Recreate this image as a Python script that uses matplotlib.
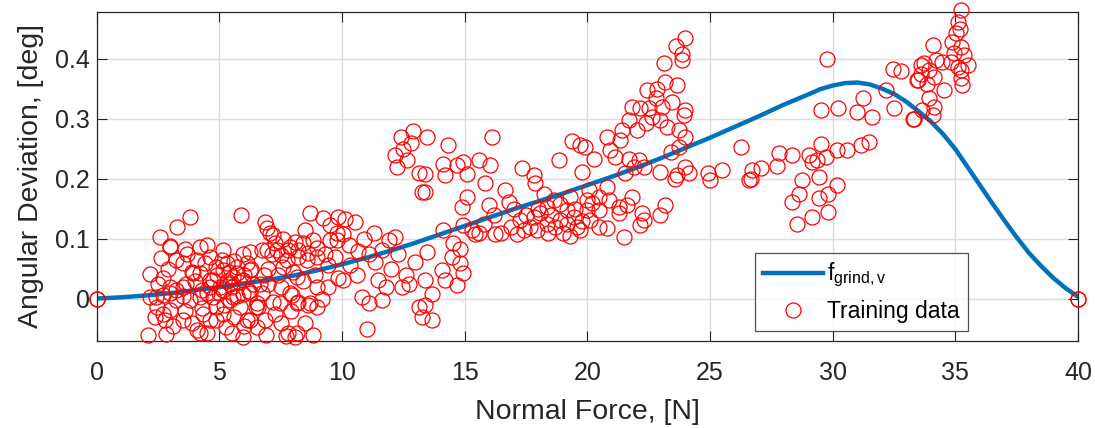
import matplotlib
matplotlib.use("Agg")
import matplotlib.pyplot as plt

plt.rcParams["font.family"] = ["Liberation Sans", "DejaVu Sans"]
plt.rcParams["mathtext.fontset"] = "custom"
plt.rcParams["mathtext.rm"] = "Liberation Sans"

# fitted curve (1 N steps, 0.5 N near the peak)
curve_force = list(range(0, 29)) + [29, 29.5, 30, 30.5, 31, 31.5, 32, 32.5, 33, 33.5, 34, 34.5,
                                     35, 35.5, 36, 36.5, 37, 37.5, 38, 38.5, 39, 39.5, 40]
curve_dev = [0.000, 0.002, 0.005, 0.009, 0.014, 0.019, 0.025, 0.031, 0.038, 0.047,
             0.057, 0.068, 0.080, 0.093, 0.107, 0.121, 0.135, 0.149, 0.162, 0.175,
             0.189, 0.203, 0.218, 0.234, 0.251, 0.268, 0.286, 0.304, 0.323,
             0.340, 0.349, 0.355, 0.359, 0.360, 0.357, 0.350, 0.341, 0.328, 0.312,
             0.295, 0.274, 0.249, 0.219, 0.189, 0.159, 0.130, 0.102, 0.076, 0.054,
             0.034, 0.017, 0.003]

# training data, (force [N], deviation [deg]) per region of the plot
pts_ends = [(0, 0), (0, 0), (40, 0), (40, 0)]

pts_low = [
    (3.80, 0.136), (3.29, 0.119), (5.88, 0.139), (2.57, 0.102), (2.98, 0.088), (3.59, 0.082),
    (4.48, 0.089), (2.64, 0.067), (3.25, 0.064), (2.16, 0.041), (2.71, 0.034), (4.07, 0.064),
    (4.20, 0.042), (5.09, 0.064), (5.97, 0.075), (6.24, 0.078), (6.11, 0.059), (5.16, 0.048),
    (5.56, 0.036), (4.75, 0.031), (3.25, 0.014), (2.71, 0.006), (2.16, 0.003), (2.44, -0.014),
    (2.37, -0.030), (2.78, -0.036), (3.25, -0.002), (3.80, -0.003), (4.20, 0.002), (4.75, 0.002),
    (5.16, 0.014), (5.43, -0.002), (4.88, -0.014), (5.16, -0.025), (4.61, -0.036), (4.07, -0.053),
    (4.48, -0.057), (2.09, -0.061), (2.81, -0.059), (5.97, -0.064), (5.29, -0.047), (6.24, -0.036),
    (6.50, -0.014), (5.97, 0.008), (6.38, 0.025), (2.98, -0.019), (3.66, 0.025), (5.70, 0.053),
    (5.16, 0.081), (4.90, 0.040), (5.30, 0.030), (5.50, 0.020), (5.80, 0.028), (6.00, 0.040),
    (5.40, 0.045), (4.60, 0.020), (5.00, 0.010), (5.70, 0.005), (6.20, 0.012), (4.30, 0.015),
    (3.50, 0.005), (3.00, 0.020), (2.50, 0.025), (3.90, 0.045), (4.40, 0.060), (3.50, 0.060),
    (2.90, 0.050), (4.00, 0.030), (5.60, 0.062), (6.30, 0.050), (5.20, -0.010), (3.60, -0.020),
    (4.30, -0.015), (3.10, -0.045), (3.90, -0.040), (5.60, -0.030), (6.00, -0.045), (5.50, -0.058),
]

pts_core = [
    (2.99, 0.086), (3.67, 0.075), (4.21, 0.086), (4.62, 0.070), (4.88, 0.053), (5.30, 0.059),
    (5.71, 0.042), (5.98, 0.031), (6.25, 0.048), (5.43, 0.025), (5.03, 0.020), (4.62, 0.031),
    (4.49, 0.009), (5.57, 0.003), (6.25, 0.009), (6.66, 0.025), (6.52, -0.008), (5.84, -0.014),
    (3.94, 0.042), (3.53, 0.020), (2.99, 0.009), (2.43, 0.003), (2.71, -0.025), (3.53, -0.036),
    (4.35, -0.025), (4.88, -0.036), (6.11, -0.036), (6.52, -0.047), (7.47, -0.008), (7.88, 0.009),
    (8.15, -0.008), (8.70, -0.008), (8.97, 0.020), (7.06, 0.109), (6.93, 0.081), (7.33, 0.081),
    (7.88, 0.086), (8.42, 0.092), (8.97, 0.070), (9.51, 0.098), (9.78, 0.109), (10.05, 0.031),
    (8.15, 0.036), (7.60, 0.053), (4.21, -0.058), (8.15, -0.058),
]

pts_mid = [
    (6.86, 0.128), (6.96, 0.118), (7.20, 0.106), (6.72, 0.081), (7.13, 0.075), (7.53, 0.073),
    (7.81, 0.081), (8.22, 0.070), (8.56, 0.064), (8.69, 0.142), (8.49, 0.114), (8.83, 0.097),
    (9.24, 0.134), (9.51, 0.122), (9.85, 0.136), (10.12, 0.133), (10.53, 0.128), (9.78, 0.097),
    (10.05, 0.108), (9.44, 0.056), (9.85, 0.034), (9.44, 0.020), (9.17, 0.000), (8.63, -0.011),
    (8.97, -0.014), (8.22, -0.005), (7.95, 0.006), (7.53, 0.020), (6.99, 0.025), (6.72, 0.009),
    (6.58, -0.014), (6.86, -0.036), (7.26, -0.025), (7.53, -0.041), (7.81, -0.058), (8.08, -0.064),
    (7.70, -0.062), (8.83, -0.061), (6.92, -0.061), (10.33, 0.056), (10.67, 0.080), (11.08, 0.075),
    (11.35, 0.061), (11.48, 0.031), (10.80, 0.003), (11.08, -0.008), (11.62, -0.003), (11.01, -0.050),
    (11.90, 0.097), (12.16, 0.103), (12.30, 0.075), (11.62, 0.081), (12.44, 0.020), (12.71, 0.025),
    (13.12, -0.014), (13.25, -0.030), (12.98, 0.061), (8.22, 0.081), (8.63, 0.076), (7.26, 0.092),
    (7.74, 0.064), (7.00, 0.050), (7.40, 0.040), (8.00, 0.045), (8.40, 0.030), (8.90, 0.040),
    (9.30, 0.075), (9.00, 0.085), (7.60, 0.100), (8.10, 0.095), (6.80, 0.040), (7.90, -0.020),
    (8.50, -0.040), (7.20, -0.005), (9.70, 0.070), (10.30, 0.090), (10.90, 0.100), (11.30, 0.110),
    (10.60, 0.040), (12.00, 0.050), (11.80, 0.020), (12.60, 0.040),
    (12.16, 0.239), (12.64, 0.231), (12.23, 0.220), (13.12, 0.209), (13.25, 0.178),
    (12.50, 0.250), (12.80, 0.260), (12.90, 0.280), (12.40, 0.270),
]

pts_rise = [
    (13.46, 0.270), (14.34, 0.256), (16.11, 0.270), (13.39, 0.208), (14.13, 0.225), (14.20, 0.206),
    (14.68, 0.222), (14.95, 0.228), (15.09, 0.208), (15.57, 0.231), (16.04, 0.222), (15.84, 0.192),
    (13.39, 0.178), (15.09, 0.170), (14.88, 0.153), (15.98, 0.156), (16.66, 0.181), (16.80, 0.161),
    (17.34, 0.217), (17.81, 0.206), (17.88, 0.192), (18.83, 0.231), (19.38, 0.262), (19.72, 0.256),
    (19.78, 0.211), (14.13, 0.114), (14.95, 0.122), (15.43, 0.108), (15.60, 0.110), (16.25, 0.108),
    (14.54, 0.092), (14.82, 0.083), (14.47, 0.070), (14.06, 0.047), (14.82, 0.059), (14.95, 0.042),
    (14.20, 0.031), (14.68, 0.022), (13.39, 0.031), (13.67, 0.008), (13.39, -0.011), (13.67, -0.036),
    (13.46, 0.078), (17.13, 0.108), (17.40, 0.114), (17.27, 0.131), (17.81, 0.136), (17.68, 0.119),
    (18.08, 0.142), (18.36, 0.153), (18.63, 0.164), (18.90, 0.158), (19.17, 0.147), (19.45, 0.136),
    (19.58, 0.119), (19.72, 0.114), (19.99, 0.147), (19.31, 0.170), (18.36, 0.125), (17.95, 0.114),
    (18.90, 0.131), (19.17, 0.125), (19.99, 0.164), (18.22, 0.175), (16.50, 0.110), (16.90, 0.120),
    (17.50, 0.140), (18.00, 0.150), (18.50, 0.140), (18.70, 0.120), (19.00, 0.110), (19.50, 0.150),
    (19.80, 0.130), (17.00, 0.150), (16.20, 0.140), (15.30, 0.115), (15.80, 0.125), (18.40, 0.110),
    (19.30, 0.105),
]

pts_high = [
    (23.96, 0.434), (23.62, 0.421), (23.86, 0.408), (23.86, 0.397), (23.11, 0.392), (23.18, 0.361),
    (23.66, 0.356), (22.44, 0.347), (22.85, 0.350), (22.78, 0.334), (21.82, 0.320), (22.16, 0.317),
    (22.50, 0.317), (23.05, 0.320), (23.45, 0.328), (24.00, 0.314), (23.93, 0.306), (22.64, 0.303),
    (22.98, 0.297), (23.25, 0.286), (22.37, 0.292), (21.69, 0.297), (21.41, 0.281), (20.80, 0.270),
    (21.34, 0.264), (22.03, 0.281), (23.73, 0.281), (24.00, 0.270), (23.73, 0.253), (23.39, 0.245),
    (20.94, 0.247), (21.14, 0.236), (20.26, 0.233), (19.92, 0.253), (21.69, 0.233), (22.10, 0.231),
    (21.89, 0.220), (22.30, 0.220), (21.55, 0.209), (22.97, 0.211), (23.66, 0.206), (24.00, 0.220),
    (24.13, 0.209), (23.59, 0.200), (24.90, 0.209), (24.98, 0.198), (25.50, 0.214), (26.27, 0.253),
    (26.70, 0.214), (26.59, 0.197), (23.18, 0.156), (22.98, 0.139), (22.23, 0.142), (22.30, 0.131),
    (22.16, 0.122), (21.48, 0.103), (20.80, 0.117), (20.46, 0.120), (20.12, 0.131), (20.19, 0.159),
    (20.46, 0.170), (20.87, 0.164), (21.28, 0.153), (21.62, 0.156), (21.82, 0.170), (20.80, 0.186),
    (20.05, 0.181), (21.28, 0.142), (20.46, 0.147),
]

pts_peak = [
    (29.78, 0.400), (31.22, 0.335), (29.51, 0.314), (30.22, 0.318), (31.00, 0.311), (31.62, 0.302),
    (32.17, 0.347), (32.48, 0.317), (32.44, 0.383), (32.80, 0.380), (33.46, 0.364), (33.59, 0.389),
    (33.29, 0.300), (26.65, 0.200), (27.06, 0.217), (27.74, 0.221), (27.81, 0.242), (28.35, 0.240),
    (29.03, 0.239), (29.17, 0.228), (29.37, 0.231), (29.51, 0.258), (29.71, 0.236), (29.44, 0.203),
    (30.19, 0.247), (30.60, 0.247), (31.14, 0.256), (31.49, 0.261), (28.76, 0.197), (28.62, 0.175),
    (28.35, 0.161), (29.44, 0.167), (29.81, 0.174), (30.17, 0.189), (29.81, 0.145), (29.17, 0.136),
    (28.54, 0.124),
]

pts_top = [
    (35.22, 0.481), (35.09, 0.461), (35.20, 0.450), (35.02, 0.442), (34.88, 0.428), (34.07, 0.422),
    (35.22, 0.420), (34.95, 0.409), (35.36, 0.406), (34.20, 0.397), (34.47, 0.395), (33.72, 0.392),
    (34.82, 0.395), (35.50, 0.389), (35.09, 0.386), (35.22, 0.381), (33.59, 0.375), (33.93, 0.381),
    (34.13, 0.370), (33.45, 0.364), (33.86, 0.358), (35.22, 0.367), (35.29, 0.356), (34.54, 0.348),
    (33.93, 0.334), (34.13, 0.320), (33.66, 0.314), (34.07, 0.306), (33.32, 0.300),
]

training = pts_ends + pts_low + pts_core + pts_mid + pts_rise + pts_high + pts_peak + pts_top
train_force = [p[0] for p in training]
train_dev = [p[1] for p in training]

dark = "#262626"
fig = plt.figure(figsize=(10.95, 4.28), dpi=100)
ax = fig.add_axes([0.0883, 0.2044, 0.8962, 0.7682])

ax.plot(curve_force, curve_dev, color="#0072BD", lw=3.2, label=r"f$_{\mathrm{grind,v}}$", zorder=2)
ax.plot(train_force, train_dev, "o", ms=10.8, mfc="none", mec="red", mew=0.9,
        label="Training data", zorder=3, clip_on=False)

ax.set_xlim(0, 40)
ax.set_ylim(-0.070, 0.478)
ax.set_xticks(range(0, 41, 5))
ax.set_yticks([0, 0.1, 0.2, 0.3, 0.4])
ax.set_yticklabels(["0", "0.1", "0.2", "0.3", "0.4"])
ax.tick_params(direction="in", length=7, width=0.8, colors=dark, labelsize=18,
               top=True, right=True)
ax.tick_params(axis="x", pad=15)
ax.tick_params(axis="y", pad=5)
for s in ax.spines.values():
    s.set_color(dark)
    s.set_linewidth(0.9)
ax.grid(True, color="#dcdcdc", lw=1)
ax.set_axisbelow(True)

ax.set_xlabel("Normal Force, [N]", fontsize=20.5, color=dark, labelpad=10)
ax.set_ylabel("Angular Deviation, [deg]", fontsize=20.5, color=dark, labelpad=8)

leg = ax.legend(loc="upper left", bbox_to_anchor=(0.671, 0.266), fontsize=16.5,
                frameon=True, fancybox=False, edgecolor=dark, borderaxespad=0,
                borderpad=0.35, handlelength=2.6, handletextpad=0.2, labelspacing=0.45)
leg.get_frame().set_linewidth(0.9)

fig.savefig("out.png", dpi=100)
